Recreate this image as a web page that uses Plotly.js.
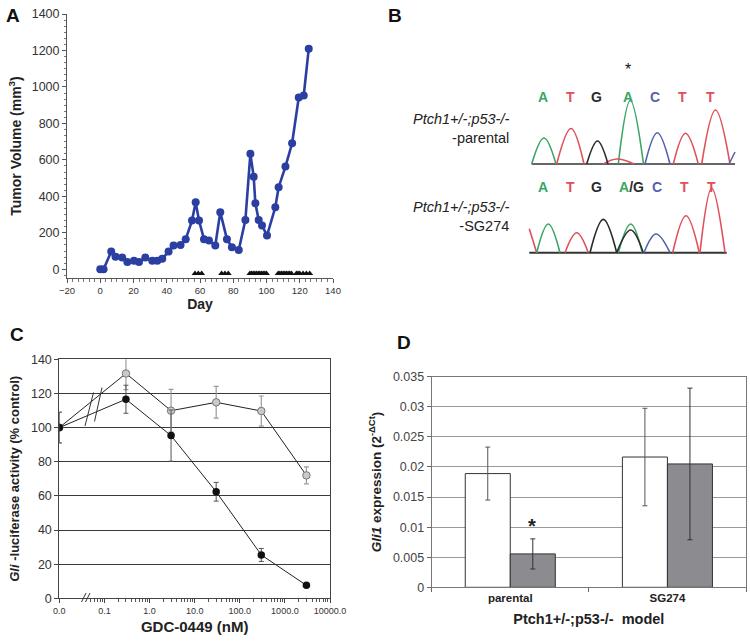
<!DOCTYPE html>
<html>
<head>
<meta charset="utf-8">
<script src="https://cdn.plot.ly/plotly-3.0.1.min.js"></script>
<style>html,body{margin:0;padding:0;background:#fff;}#chart{width:750px;height:641px;}</style>
</head>
<body>
<div id="chart"></div>
<script>
// ---------- Panel A: tumor volume ----------
const dayA = [0, 2, 6.6, 9.2, 13.2, 16.3, 20.3, 23.3, 27.1, 31.3, 34.3, 37.3, 41.1, 44.1, 48.3, 51.4, 55.2, 57.4, 59.4, 62.4, 65.4, 69.2, 72.2, 76.2, 79.2, 83.3, 87.3, 90.3, 92.3, 93.3, 95.3, 97.3, 100.3, 105.3, 107.3, 111.4, 115.4, 119.4, 122.4, 125.4];
const volA = [0, 0, 97, 69, 64, 40, 46, 40, 64, 46, 46, 57, 97, 130, 133, 165, 267, 367, 267, 165, 157, 130, 313, 165, 121, 106, 270, 633, 508, 362, 270, 240, 185, 340, 450, 563, 691, 942, 953, 1209];
const doseDays = [57, 59, 61, 73, 75, 77, 90, 91, 92, 93, 94, 95, 96, 97, 98, 99, 100, 107, 108, 109, 110, 111, 112, 113, 114, 115, 118, 119, 120, 122, 124, 126];
const doseMarkY = -24;

// ---------- Panel B: sequencing traces (scan units) ----------
const topBaseLetters = ['A', 'T', 'G', 'A', 'C', 'T', 'T'];
const topLetterX = [17.7, 45, 71.7, 103.3, 130, 157.7, 185];
const botBaseLetters = ['A', 'T', 'G', 'A/G', 'C', 'T', 'T'];
const botLetterX = [18, 45, 71.7, 106.7, 132, 159, 186.7];

const topPeakBase  = ['A', 'T', 'G', 'T', 'A', 'C', 'T', 'T', 'C'];
const topPeakLeft  = [6.7, 31.7, 61.7, 78.3, 93.3, 120, 148.3, 176.7, 204];
const topPeakApex  = [19, 46, 72.5, 92, 105.3, 132.3, 160.5, 190.5, 210];
const topPeakRight = [31, 59, 83, 109, 118.5, 145, 173.3, 205, null];
const topPeakH     = [26, 35.5, 23, 5, 63.5, 31.3, 30.7, 54, 12];
const topBaseline  = [6.7, 210];

const botPeakBase  = ['T', 'A', 'T', 'G', 'A', 'G', 'C', 'T', 'T'];
const botPeakLeft  = [null, 11.7, 40, 65, 93.3, 91.7, 119, 147.7, 175];
const botPeakApex  = [4.3, 23.3, 51.7, 78.3, 105.7, 105.7, 131, 161, 186.7];
const botPeakRight = [11.7, 35, 63.3, 91.7, 117.3, 118.3, 145, 174.3, 200];
const botPeakH     = [24, 28.7, 20, 33.3, 28.7, 22.7, 18.7, 37, 64.3];
const botBaseline  = [4.3, 201.7];

// ---------- Panel C: Gli-luciferase ----------
// 0.01 stands for the untreated control (0 nM) on the broken log axis
const doseC = [0.01, 0.3, 3, 30, 300, 3000];
const parentalC = [100, 116.6, 95.3, 62.4, 25.4, 7.6];   // black
const parentalErr = [9, 8.2, 15, 5.5, 3.8, 0];
const sg274C = [100, 131.7, 109.9, 114.8, 109.7, 72];     // gray
const sg274Err = [9, 9.5, 12.5, 9.3, 8.8, 5];
const tickValsC = [0.01, 0.1, 1, 10, 100, 1000, 10000];
const tickTextC = ['0.0', '0.1', '1.0', '10.0', '100.0', '1000.0', '10000.0'];

// ---------- Panel D: Gli1 expression ----------
const modelsD = ['parental', 'SG274'];
const vehicleD = [0.0189, 0.02165];
const vehicleErr = [0.0044, 0.0081];
const treatedD = [0.00555, 0.0205];
const treatedErr = [0.0025, 0.0126];
const tickValsD = [0, 0.005, 0.01, 0.015, 0.02, 0.025, 0.03, 0.035];
const tickTextD = ['0', '0.005', '0.01', '0.015', '0.02', '0.025', '0.03', '0.035'];

// ================= build =================
const FONT = 'Liberation Sans, Arial, Helvetica, sans-serif';
const W = 750, H = 641;
const px = v => v / W;
const py = v => 1 - v / H;
const baseColor = {A: '#3aa564', T: '#e0505a', G: '#2b2b2b', C: '#5560b0'};

const traces = [];

// A
traces.push({x: dayA, y: volA, xaxis: 'x', yaxis: 'y', mode: 'lines+markers', type: 'scatter',
  line: {color: '#2b3fa3', width: 2.6}, marker: {color: '#2b3fa3', size: 8}, hoverinfo: 'x+y'});
traces.push({x: doseDays, y: doseDays.map(() => doseMarkY), xaxis: 'x', yaxis: 'y', mode: 'markers', type: 'scatter',
  marker: {symbol: 'triangle-up', color: '#111', size: 6}, hoverinfo: 'x'});

// B
function peakTraces(baseArr, lArr, aArr, rArr, hArr, yaxis) {
  const groups = {};
  baseArr.forEach((b, i) => {
    if (!groups[b]) groups[b] = {x: [], y: []};
    const g = groups[b];
    if (lArr[i] !== null) { g.x.push(lArr[i]); g.y.push(0); }
    g.x.push(aArr[i]); g.y.push(hArr[i]);
    if (rArr[i] !== null) { g.x.push(rArr[i]); g.y.push(0); }
    g.x.push(null); g.y.push(null);
  });
  Object.keys(groups).forEach(b => {
    traces.push({x: groups[b].x, y: groups[b].y, xaxis: 'x2', yaxis: yaxis, type: 'scatter', mode: 'lines',
      connectgaps: false, line: {color: baseColor[b], width: 1.6, shape: 'spline', smoothing: 1.1}, hoverinfo: 'skip'});
  });
}
traces.push({x: topBaseline, y: [0, 0], xaxis: 'x2', yaxis: 'y2', mode: 'lines', type: 'scatter', line: {color: '#333', width: 1.6}, hoverinfo: 'skip'});
traces.push({x: botBaseline, y: [0, 0], xaxis: 'x2', yaxis: 'y3', mode: 'lines', type: 'scatter', line: {color: '#333', width: 2}, hoverinfo: 'skip'});
peakTraces(topPeakBase, topPeakLeft, topPeakApex, topPeakRight, topPeakH, 'y2');
peakTraces(botPeakBase, botPeakLeft, botPeakApex, botPeakRight, botPeakH, 'y3');

// C
traces.push({x: doseC, y: sg274C, xaxis: 'x3', yaxis: 'y4', type: 'scatter', mode: 'lines+markers',
  line: {color: '#222', width: 1}, marker: {color: '#c9c9c9', size: 7.5, line: {color: '#777', width: 1}},
  error_y: {type: 'data', array: sg274Err, visible: true, color: '#9a9a9a', thickness: 1.2, width: 2.5}});
traces.push({x: doseC, y: parentalC, xaxis: 'x3', yaxis: 'y4', type: 'scatter', mode: 'lines+markers',
  line: {color: '#222', width: 1}, marker: {color: '#111', size: 7.5},
  error_y: {type: 'data', array: parentalErr, visible: true, color: '#555', thickness: 1, width: 2.5}});

// D
traces.push({x: modelsD, y: vehicleD, xaxis: 'x4', yaxis: 'y5', type: 'bar',
  marker: {color: '#ffffff', line: {color: '#333', width: 1}},
  error_y: {type: 'data', array: vehicleErr, visible: true, color: '#555', thickness: 1, width: 2.5}});
traces.push({x: modelsD, y: treatedD, xaxis: 'x4', yaxis: 'y5', type: 'bar',
  marker: {color: '#8c8c90', line: {color: '#333', width: 1}},
  error_y: {type: 'data', array: treatedErr, visible: true, color: '#333', thickness: 1, width: 2.5}});

// minor ticks for panel C log axis
const minorC = [];
[0.01, 0.1, 1, 10, 100, 1000].forEach(d => { for (let k = 2; k <= 9; k++) { if (!(d === 0.01 && k < 5)) minorC.push(d * k); } });

const annotations = [];
const panelLetter = (t, x, y) => annotations.push({text: '<b>' + t + '</b>', xref: 'paper', yref: 'paper', x: px(x), y: py(y),
  xanchor: 'left', yanchor: 'middle', showarrow: false, font: {family: FONT, size: 19, color: '#111'}});
panelLetter('A', 4, 15);
panelLetter('B', 386, 15);
panelLetter('C', 8, 334);
panelLetter('D', 395, 342);

// B letters
topBaseLetters.forEach((b, i) => annotations.push({text: '<b>' + b + '</b>', xref: 'x2', yref: 'paper', x: topLetterX[i], y: py(87),
  showarrow: false, font: {family: FONT, size: 14, color: baseColor[b]}}));
botBaseLetters.forEach((b, i) => {
  let txt;
  if (b.indexOf('/') > 0) { const p = b.split('/'); txt = '<b><span style="color:' + baseColor[p[0]] + '">' + p[0] + '</span>/' + p[1] + '</b>'; }
  else txt = '<b>' + b + '</b>';
  annotations.push({text: txt, xref: 'x2', yref: 'paper', x: botLetterX[i], y: py(177),
    showarrow: false, font: {family: FONT, size: 14, color: baseColor[b] || '#2b2b2b'}});
});
annotations.push({text: '*', xref: 'x2', yref: 'paper', x: topLetterX[3], y: py(69), yanchor: 'middle', showarrow: false,
  font: {family: FONT, size: 16, color: '#111'}});
annotations.push({text: '<i>Ptch1+/-;p53-/-</i><br>-parental', xref: 'paper', yref: 'paper', x: px(511), y: py(129),
  xanchor: 'right', yanchor: 'middle', align: 'right', showarrow: false, font: {family: FONT, size: 14.5, color: '#222'}});
annotations.push({text: '<i>Ptch1+/-;p53-/-</i><br>-SG274', xref: 'paper', yref: 'paper', x: px(511), y: py(216),
  xanchor: 'right', yanchor: 'middle', align: 'right', showarrow: false, font: {family: FONT, size: 14.5, color: '#222'}});
// D significance star
annotations.push({text: '<b>*</b>', xref: 'x4', yref: 'y5', x: modelsD[0], xshift: 22, y: treatedD[0] + treatedErr[0] + 0.0022,
  showarrow: false, font: {family: FONT, size: 20, color: '#222'}});

// axis-break marks on panel C
const shapes = [
  {type: 'line', xref: 'paper', yref: 'paper', x0: px(85), y0: py(426), x1: px(93.5), y1: py(392.5), line: {color: '#333', width: 1}},
  {type: 'line', xref: 'paper', yref: 'paper', x0: px(94.5), y0: py(421.5), x1: px(102), y1: py(387.5), line: {color: '#333', width: 1}},
  {type: 'line', xref: 'paper', yref: 'paper', x0: px(81.5), y0: py(602), x1: px(86), y1: py(593), line: {color: '#333', width: 1}},
  {type: 'line', xref: 'paper', yref: 'paper', x0: px(85.5), y0: py(602), x1: px(90), y1: py(593), line: {color: '#333', width: 1}}
];

const tf = (s, c) => ({family: FONT, size: s, color: c || '#333'});

const layout = {
  width: W, height: H, margin: {l: 0, r: 0, t: 0, b: 0}, paper_bgcolor: '#fff', plot_bgcolor: 'rgba(0,0,0,0)',
  showlegend: false, font: {family: FONT},
  barmode: 'group', bargap: 0.427, bargroupgap: 0,
  // A
  xaxis: {domain: [px(67), px(333)], anchor: 'y', range: [-20, 140], dtick: 20, tick0: 0, ticks: 'outside', ticklen: 4,
    tickcolor: '#555', showline: true, linecolor: '#555', linewidth: 1, showgrid: false, zeroline: false,
    tickfont: tf(9.5), minor: {ticks: 'outside', ticklen: 2.5, dtick: 20 / 6, tickcolor: '#777'},
    title: {text: '<b>Day</b>', font: tf(14, '#222'), standoff: 3}},
  yaxis: {domain: [py(278), py(14)], anchor: 'x', range: [-48, 1400], dtick: 200, tick0: 0, ticks: 'outside', ticklen: 4,
    tickcolor: '#555', showline: true, linecolor: '#555', linewidth: 1, showgrid: false, zeroline: false,
    tickfont: tf(12.5), minor: {ticks: 'outside', ticklen: 2.5, dtick: 200 / 6, tickcolor: '#777'},
    title: {text: '<b>Tumor Volume (mm<sup>3</sup>)</b>', font: tf(14, '#222'), standoff: 6}},
  // B
  xaxis2: {domain: [px(525), px(745)], anchor: 'y2', range: [0, 220], visible: false},
  yaxis2: {domain: [py(168), py(95)], anchor: 'x2', range: [-4, 69], visible: false},
  yaxis3: {domain: [py(257), py(180)], anchor: 'x2', range: [-4.3, 72.7], visible: false},
  // C
  xaxis3: {domain: [px(59.3), px(330)], anchor: 'y4', type: 'log', range: [-2, 4], tickvals: tickValsC, ticktext: tickTextC,
    ticks: 'outside', ticklen: 4, tickcolor: '#444', showline: true, mirror: true, linecolor: '#444', linewidth: 1,
    showgrid: false, zeroline: false, tickfont: tf(9),
    minor: {tickvals: minorC, ticks: 'outside', ticklen: 3, tickcolor: '#555', showgrid: false},
    title: {text: '<b>GDC-0449 (nM)</b>', font: tf(15, '#222'), standoff: 6}},
  yaxis4: {domain: [py(598.3), py(359.3)], anchor: 'x3', range: [0, 140], dtick: 20, ticks: 'outside', ticklen: 4,
    tickcolor: '#444', showline: true, mirror: true, linecolor: '#444', linewidth: 1, showgrid: true, gridcolor: '#3a3a3a',
    gridwidth: 1, zeroline: false, tickfont: tf(12.5),
    title: {text: '<b><i>Gli</i> -luciferase activity (% control)</b>', font: tf(13, '#222'), standoff: 8}},
  // D
  xaxis4: {domain: [px(431.7), px(746)], anchor: 'y5', type: 'category', ticks: 'outside', ticklen: 4, tickson: 'boundaries',
    tickcolor: '#666', showline: true, mirror: true, linecolor: '#777', linewidth: 1, showgrid: false, zeroline: false,
    tickfont: {family: FONT, size: 11.5, color: '#222', weight: 'bold'},
    title: {text: '<b>Ptch1+/-;p53-/-  model</b>', font: tf(14.5, '#222'), standoff: 10}},
  yaxis5: {domain: [py(587.3), py(376.7)], anchor: 'x4', range: [0, 0.035], tickvals: tickValsD, ticktext: tickTextD,
    ticks: 'outside', ticklen: 4, tickcolor: '#666', showline: true, mirror: true, linecolor: '#777', linewidth: 1,
    showgrid: true, gridcolor: '#9a9a9a', gridwidth: 1, zeroline: false, tickfont: tf(12.5, '#444'),
    title: {text: '<b><i>Gli1</i> expression (2<sup>-ΔCt</sup>)</b>', font: tf(13.5, '#222'), standoff: 8}},
  annotations: annotations,
  shapes: shapes
};

Plotly.newPlot('chart', traces, layout, {displayModeBar: false, staticPlot: true});
</script>
</body>
</html>
